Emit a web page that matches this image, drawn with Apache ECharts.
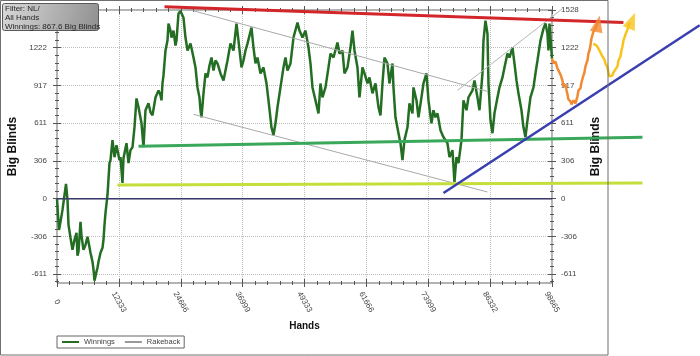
<!DOCTYPE html>
<html>
<head>
<meta charset="utf-8">
<script src="https://cdn.jsdelivr.net/npm/echarts@6/dist/echarts.min.js"></script>
<style>
html,body{margin:0;padding:0;background:#fff;}
#chart{width:700px;height:356px;}
</style>
</head>
<body>
<div id="chart"></div>
<script>
// ---- data ----
const handsX = [0,199,399,698,1096,1495,1794,2093,2292,2691,3089,3488,3886,4086,4285,4684,4883,5281,5680,6079,6278,6677,7075,7275,7474,7673,7872,8072,8271,8670,9068,9267,9467,9666,10065,10463,10662,11061,11460,11858,12058,12456,12656,13054,13253,13851,14250,14649,15047,15446,15844,16243,16841,17239,17638,18236,18635,19033,19631,20229,20628,20827,21026,21226,21624,22023,22222,22621,22820,23218,23617,23816,24215,24614,24813,25212,25610,26009,26607,27205,27604,28003,28401,28600,28800,29199,29597,29996,30394,30793,31191,31590,31989,32587,33184,33583,33982,34580,35178,35776,36174,36772,37171,37570,37968,38766,39164,39563,39961,40559,41157,41755,42153,42751,43150,43548,43947,44545,45143,45541,45940,46538,47136,47933,48332,48930,49528,50126,50524,50923,51521,52119,52517,52916,53514,54112,54510,55108,55906,56304,56902,57301,57899,58497,58895,59294,59892,60290,60888,61287,61885,62283,62881,63479,64077,64476,64874,65273,65871,66269,66867,67067,67465,68063,68462,68860,69259,69857,70255,70853,71053,71651,72049,72647,73046,73644,74043,74640,75039,75438,75837,76435,77033,77830,78229,78827,79225,79624,80023,80621,81019,81617,82016,82813,83212,83810,84208,84806,85006,85404,85803,86002,86401,86800,87198,87796,88195,88793,89191,89789,90188,90786,91184,91583,91981,92579,92978,93376,93775,94373,94971,95369,95768,96366,96964,97363,97761,97960,98159,98665];
const winningsBB = [0,-132,-253,-188,-91,30,119,-10,-212,-317,-414,-333,-277,-462,-430,-188,-301,-414,-374,-309,-349,-438,-511,-575,-664,-680,-591,-559,-511,-438,-398,-333,-212,-115,30,288,312,474,336,433,393,312,336,127,328,449,288,393,417,578,812,740,611,417,716,772,700,675,820,877,837,796,933,998,1200,1280,1418,1361,1305,1361,1240,1280,1498,1520,1506,1466,1305,1200,1256,1143,1063,901,820,716,659,853,1014,982,1079,1143,1038,1119,1095,1014,958,1038,1119,1256,1200,1418,1280,1063,1119,1200,1256,1385,1224,1095,1143,1014,1063,933,796,578,514,611,740,901,1063,1143,1038,1095,1305,1426,1361,1305,1361,1224,1095,901,796,691,933,820,901,1063,1175,1143,1264,1175,1200,1014,1063,1224,1361,1200,1063,820,1063,1014,933,982,853,933,740,675,933,1143,1095,933,1095,901,659,530,449,312,474,578,772,691,901,796,659,820,933,1014,796,611,716,659,691,554,498,449,336,393,135,336,288,474,796,716,820,877,958,820,716,1014,1280,1442,1337,933,635,530,691,820,901,982,1063,1175,1143,1224,1095,958,853,716,578,498,635,820,901,1014,1119,1280,1377,1418,1337,1200,1418,1135];
const rakebackX = [0, 98665];
const rakebackBB = [0, 0];

// hand-drawn annotations (hands, big blinds)
const redTrendX = [21425, 112903];     const redTrendY = [1555, 1426];
const greenTrendX = [16243, 116691];   const greenTrendY = [425, 498];
const limeTrendX = [12058, 116691];    const limeTrendY = [111, 127];
const blueTrendX = [77033, 128100];    const blueTrendY = [46, 1405];
const zeroLineX = [0, 98665];          const zeroLineY = [0, 0];
const channelTopX = [24215, 85803];    const channelTopY = [1555, 869];
const channelBottomX = [27205, 85803]; const channelBottomY = [683, 54];
const channelRiseX = [79820, 100746];  const channelRiseY = [877, 1539];
const orangePathX = [98665,98952,99351,99750,100148,100348,100746,100945,101344,101543,101743,101942,102341,102540,102939,103337,103736,103935,104334,104533,104932,105131,105330,105729,105928,106128,106327,106527,106925,107324,107722];
const orangePathY = [1135,1095,1111,1055,1071,1006,958,909,925,885,845,804,788,764,796,772,829,877,893,941,998,1022,1071,1119,1175,1200,1240,1297,1353,1377,1426];
const yellowPathX = [106925,107523,107922,108321,108520,108719,109118,109317,109716,109915,110115,110314,110713,110912,111310,111709,111908,112307,112506,112706,112905,113303,113702,113902,114300];
const yellowPathY = [1256,1240,1216,1184,1200,1151,1127,1095,1063,1022,990,974,998,1022,1038,1071,1119,1151,1200,1232,1280,1329,1369,1401,1426];
const arrowTipsX = [107820, 114598];
const arrowTipsY = [1417, 1442];

// axes / ticks
const xTickLabels = ['0','12333','24666','36999','49333','61666','73999','86332','98665'];
const yTickValues = [-611.2,-305.6,0,305.6,611.2,916.8,1222.4,1528];
const yTickLabels = ['-611','-306','0','306','611','917','1222','1528'];
const filterLines = ['Filter: NL/','All Hands','Winnings: 867.6 Big Blinds'];

// ---- chart ----
const X_MAX = 98665, X_STEP = X_MAX / 8;
const Y_MIN = -683, Y_MAX = 1528;
// overlay grid spans from the plot's left edge to the page's right edge
const PLOT_W = 700 - 57 - 148, OVER_W = 700 - 57;
const X_MAX_OVER = X_MAX * OVER_W / PLOT_W;
const Y_MAX_OVER = Y_MAX + (Y_MAX - Y_MIN) / 273 * 10;

const yMinorValues = [];
for (let v = yTickValues[0] - 61.12; v <= Y_MAX + 0.01; v += 61.12) {
  if (v >= Y_MIN) yMinorValues.push(+v.toFixed(2));
}
const pairs = (xs, ys) => xs.map((x, i) => [x, ys[i]]);
const FONT = 'Liberation Sans, Arial, sans-serif';
const TICK = '#555';

function xAxisCfg(extra) {
  return Object.assign({
    type: 'value', min: 0, max: X_MAX, interval: X_STEP, gridIndex: 0,
    axisLine: { show: false, onZero: false },
    axisTick: { show: false },
    axisLabel: { show: false },
    splitLine: { show: false },
    minorTick: { show: false }
  }, extra);
}
function yAxisCfg(extra) {
  return Object.assign({
    type: 'value', min: Y_MIN, max: Y_MAX, gridIndex: 0,
    axisLine: { show: false, onZero: false },
    axisTick: { show: false, customValues: yTickValues },
    axisLabel: { show: false, customValues: yTickValues },
    splitLine: { show: false }
  }, extra);
}
const yLabelFmt = v => {
  const i = yTickValues.findIndex(t => Math.abs(t - v) < 0.01);
  return i >= 0 ? yTickLabels[i] : String(Math.round(v));
};
const xLabelFmt = v => xTickLabels[Math.round(v / X_STEP)] || '';

const chart = echarts.init(document.getElementById('chart'), null, { renderer: 'canvas' });

function annot(name, xs, ys, color, width, z) {
  return {
    name, type: 'line', data: pairs(xs, ys), showSymbol: false, symbol: 'none',
    xAxisIndex: 5, yAxisIndex: 6,
    clip: false, silent: true, z: z || 5, animation: false,
    lineStyle: { color, width }, itemStyle: { color }
  };
}

chart.setOption({
  animation: false,
  backgroundColor: '#fff',
  textStyle: { fontFamily: FONT },
  grid: [
    {
      left: 57, right: 148, top: 10, bottom: 73,
      show: true, borderColor: '#666', borderWidth: 1, backgroundColor: 'transparent',
      containLabel: false, outerBoundsMode: 'none'
    },
    { left: 57, right: 0, top: 0, bottom: 73, show: false, containLabel: false, outerBoundsMode: 'none' }
  ],
  legend: {
    data: [
      { name: 'Winnings', icon: 'rect' },
      { name: 'Rakeback', icon: 'rect' }
    ],
    left: 57, top: 336, orient: 'horizontal',
    itemWidth: 17, itemHeight: 2, itemGap: 10,
    padding: [2, 4, 2, 5],
    borderColor: '#666', borderWidth: 1, backgroundColor: '#fff',
    textStyle: { fontSize: 7.5, color: '#444', fontFamily: FONT }
  },
  xAxis: [
    xAxisCfg({
      position: 'bottom',
      axisLabel: {
        show: true, rotate: -60, fontSize: 8, color: '#444', margin: 19,
        align: 'center', verticalAlign: 'middle', formatter: xLabelFmt, fontFamily: FONT
      },
      splitLine: { show: true, lineStyle: { type: 'dotted', color: '#bdbdbd', width: 1 } },
      name: 'Hands', nameLocation: 'middle', nameGap: 36,
      nameTextStyle: { fontWeight: 'bold', fontSize: 10, color: '#111', fontFamily: FONT }
    }),
    xAxisCfg({ position: 'bottom', offset: -4, axisTick: { show: true, length: 8, lineStyle: { color: TICK } } }),
    xAxisCfg({ position: 'bottom', offset: -2, minorTick: { show: true, splitNumber: 5, length: 4, lineStyle: { color: TICK } } }),
    xAxisCfg({ position: 'top', offset: -4, axisTick: { show: true, length: 8, lineStyle: { color: TICK } } }),
    xAxisCfg({ position: 'top', offset: -2, minorTick: { show: true, splitNumber: 5, length: 4, lineStyle: { color: TICK } } }),
    { type: 'value', gridIndex: 1, min: 0, max: X_MAX_OVER, show: false, axisLine: { onZero: false } }
  ],
  yAxis: [
    yAxisCfg({
      position: 'left',
      axisLabel: { show: true, customValues: yTickValues, formatter: yLabelFmt, fontSize: 8, color: '#444', margin: 10, fontFamily: FONT },
      splitLine: { show: true, lineStyle: { type: 'dotted', color: '#bdbdbd', width: 1 } },
      name: 'Big Blinds', nameLocation: 'middle', nameGap: 38, nameRotate: 90,
      nameTextStyle: { fontWeight: 'bold', fontSize: 12, color: '#111', fontFamily: FONT }
    }),
    yAxisCfg({ position: 'left', offset: -4, axisTick: { show: true, length: 8, customValues: yTickValues, lineStyle: { color: TICK } } }),
    yAxisCfg({ position: 'left', offset: -2, axisTick: { show: true, length: 4, customValues: yMinorValues, lineStyle: { color: TICK } } }),
    yAxisCfg({
      position: 'right',
      axisLabel: { show: true, customValues: yTickValues, formatter: yLabelFmt, fontSize: 8, color: '#444', margin: 9, fontFamily: FONT },
      name: 'Big Blinds', nameLocation: 'middle', nameGap: 35, nameRotate: 90,
      nameTextStyle: { fontWeight: 'bold', fontSize: 12, color: '#111', fontFamily: FONT }
    }),
    yAxisCfg({ position: 'right', offset: -4, axisTick: { show: true, length: 8, customValues: yTickValues, lineStyle: { color: TICK } } }),
    yAxisCfg({ position: 'right', offset: -2, axisTick: { show: true, length: 4, customValues: yMinorValues, lineStyle: { color: TICK } } }),
    { type: 'value', gridIndex: 1, min: Y_MIN, max: Y_MAX_OVER, show: false, axisLine: { onZero: false } }
  ],
  series: [
    {
      name: 'Rakeback', type: 'line', data: pairs(rakebackX, rakebackBB), showSymbol: false, symbol: 'none',
      silent: true, z: 2, lineStyle: { color: '#9a9a9a', width: 1 }, itemStyle: { color: '#9a9a9a' }
    },
    {
      name: 'Winnings', type: 'line', data: pairs(handsX, winningsBB), showSymbol: false, symbol: 'none',
      silent: true, z: 3, lineStyle: { color: '#246e24', width: 2.5 }, itemStyle: { color: '#246e24' }
    },
    annot('zero', zeroLineX, zeroLineY, '#3a3a6c', 1.5, 4),
    annot('chTop', channelTopX, channelTopY, '#a9a9a9', 1, 5),
    annot('chBottom', channelBottomX, channelBottomY, '#a9a9a9', 1, 5),
    annot('chRise', channelRiseX, channelRiseY, '#b5b5b5', 1, 5),
    annot('red', redTrendX, redTrendY, '#d3262b', 3, 6),
    annot('green', greenTrendX, greenTrendY, '#3aa85a', 3, 6),
    annot('lime', limeTrendX, limeTrendY, '#c6de3a', 3, 6),
    annot('blue', blueTrendX, blueTrendY, '#3a3fb0', 2.5, 7),
    annot('orange', orangePathX, orangePathY, '#f28a32', 2.5, 7),
    annot('yellow', yellowPathX, yellowPathY, '#f8c41c', 2.5, 7),
    {
      name: 'arrows', type: 'scatter', silent: true, clip: false, z: 8, animation: false,
      xAxisIndex: 5, yAxisIndex: 6,
      data: [
        { value: [arrowTipsX[0], arrowTipsY[0]], symbolRotate: -12, itemStyle: { color: '#f28a32' } },
        { value: [arrowTipsX[1], arrowTipsY[1]], symbolRotate: -22, itemStyle: { color: '#f8c41c' } }
      ],
      symbol: 'triangle', symbolSize: [13, 17]
    }
  ],
  graphic: [
    { type: 'rect', shape: { x: 0.5, y: 0.5, width: 607.5, height: 354.5 }, style: { fill: 'none', stroke: '#6f6f6f', lineWidth: 1 }, z: 50, silent: true },
    {
      type: 'rect', shape: { x: 2.5, y: 3.5, width: 96, height: 27, r: 2 }, z: 100, silent: true,
      style: {
        fill: new echarts.graphic.LinearGradient(0, 0, 1, 1, [
          { offset: 0, color: '#d9d9d9' }, { offset: 1, color: '#8f8f8f' }
        ]),
        stroke: '#5a5a5a', lineWidth: 1
      }
    },
    { type: 'text', x: 5, y: 5, z: 101, silent: true, style: { text: filterLines[0], fontSize: 8, fill: '#262626', fontFamily: FONT } },
    { type: 'text', x: 5, y: 14, z: 101, silent: true, style: { text: filterLines[1], fontSize: 8, fill: '#262626', fontFamily: FONT } },
    { type: 'text', x: 5, y: 23, z: 101, silent: true, style: { text: filterLines[2], fontSize: 8, fill: '#262626', fontFamily: FONT } }
  ]
});
</script>
</body>
</html>
